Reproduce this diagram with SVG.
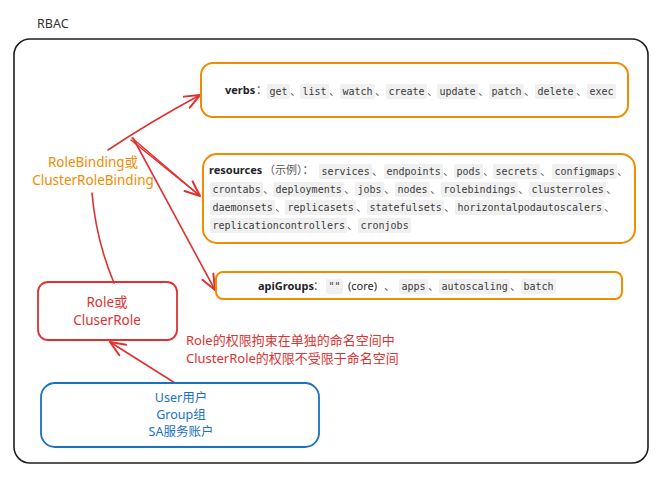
<svg xmlns="http://www.w3.org/2000/svg" width="670" height="482" viewBox="0 0 670 482">
<defs>
<style>
.hand{font-family:"Noto Sans","Noto Sans CJK SC",sans-serif;}
.lbl{font-family:"Noto Sans","Noto Sans CJK SC",sans-serif;font-size:11px;fill:#1f2329;}
.b{font-weight:bold;}
.sep{font-family:"Noto Sans CJK SC",sans-serif;font-size:11px;fill:#555;}
.code{font-family:"DejaVu Sans Mono",monospace;font-size:10px;fill:#3a3a3a;}
.cb{fill:#f0f0f0;}
.ob{fill:none;stroke:#f08c00;stroke-width:2;}
.conn{fill:none;stroke:#e03131;stroke-width:1.6;stroke-linecap:round;}
</style>
<marker id="ah" markerUnits="userSpaceOnUse" markerWidth="20" markerHeight="20" refX="0" refY="0" viewBox="-14 -8 16 16" orient="auto">
<path d="M -12 -5 L 0 0 L -12 5" fill="none" stroke="#e03131" stroke-width="1.6" stroke-linecap="round" stroke-linejoin="round"/>
</marker>
</defs>
<rect width="670" height="482" fill="#ffffff"/>

<g id="frame">
<text x="37" y="28" class="hand" font-size="12.5" fill="#333">RBAC</text>
<rect x="14" y="39" width="634" height="424" rx="16" fill="none" stroke="#1e1e1e" stroke-width="1.6"/>
</g>

<g id="connectors">
<path class="conn" d="M 108 150 Q 150 122 200 95" marker-end="url(#ah)"/>
<path class="conn" d="M 132 138 L 200 196" marker-end="url(#ah)"/>
<path class="conn" d="M 133 138 L 215 290" marker-end="url(#ah)"/>
<path class="conn" d="M 131 140 L 199 195"/>
<path class="conn" d="M 92 193 Q 96 240 114 283"/>
<path class="conn" d="M 175 383 L 110 342" marker-end="url(#ah)"/>
</g>

<g id="verbs">
<rect class="ob" x="201" y="63" width="427" height="54" rx="12"/>
<text class="lbl b" x="225" y="94">verbs</text>
<text class="sep" x="256" y="94">：</text>
<rect class="cb" x="267" y="84" width="23" height="15" rx="2"/><text class="code" x="269.5" y="95">get</text><text class="sep" x="290" y="95">、</text>
<rect class="cb" x="300" y="84" width="29" height="15" rx="2"/><text class="code" x="302.5" y="95">list</text><text class="sep" x="329" y="95">、</text>
<rect class="cb" x="340" y="84" width="35" height="15" rx="2"/><text class="code" x="342.5" y="95">watch</text><text class="sep" x="375" y="95">、</text>
<rect class="cb" x="386" y="84" width="41" height="15" rx="2"/><text class="code" x="388.5" y="95">create</text><text class="sep" x="427" y="95">、</text>
<rect class="cb" x="437" y="84" width="41" height="15" rx="2"/><text class="code" x="439.5" y="95">update</text><text class="sep" x="478" y="95">、</text>
<rect class="cb" x="489" y="84" width="35" height="15" rx="2"/><text class="code" x="491.5" y="95">patch</text><text class="sep" x="524" y="95">、</text>
<rect class="cb" x="535" y="84" width="41" height="15" rx="2"/><text class="code" x="537.5" y="95">delete</text><text class="sep" x="576" y="95">、</text>
<rect class="cb" x="587" y="84" width="29" height="15" rx="2"/><text class="code" x="589.5" y="95">exec</text>
</g>

<g id="resources">
<rect class="ob" x="203" y="154" width="432" height="89" rx="14"/>
<text class="lbl b" x="209" y="174">resources</text>
<text class="sep" x="264" y="174" fill="#444">（示例）：</text>
<rect class="cb" x="319" y="164" width="53" height="15" rx="2"/><text class="code" x="321.5" y="175">services</text><text class="sep" x="372" y="175">、</text>
<rect class="cb" x="384" y="164" width="59" height="15" rx="2"/><text class="code" x="386.5" y="175">endpoints</text><text class="sep" x="443" y="175">、</text>
<rect class="cb" x="454" y="164" width="29" height="15" rx="2"/><text class="code" x="456.5" y="175">pods</text><text class="sep" x="483" y="175">、</text>
<rect class="cb" x="493" y="164" width="47" height="15" rx="2"/><text class="code" x="495.5" y="175">secrets</text><text class="sep" x="540" y="175">、</text>
<rect class="cb" x="552" y="164" width="65" height="15" rx="2"/><text class="code" x="554.5" y="175">configmaps</text><text class="sep" x="617" y="175">、</text>

<rect class="cb" x="210" y="182" width="53" height="15" rx="2"/><text class="code" x="212.5" y="193">crontabs</text><text class="sep" x="263" y="193">、</text>
<rect class="cb" x="273" y="182" width="71" height="15" rx="2"/><text class="code" x="275.5" y="193">deployments</text><text class="sep" x="344" y="193">、</text>
<rect class="cb" x="355" y="182" width="29" height="15" rx="2"/><text class="code" x="357.5" y="193">jobs</text><text class="sep" x="384" y="193">、</text>
<rect class="cb" x="395" y="182" width="35" height="15" rx="2"/><text class="code" x="397.5" y="193">nodes</text><text class="sep" x="430" y="193">、</text>
<rect class="cb" x="441" y="182" width="77" height="15" rx="2"/><text class="code" x="443.5" y="193">rolebindings</text><text class="sep" x="518" y="193">、</text>
<rect class="cb" x="529" y="182" width="77" height="15" rx="2"/><text class="code" x="531.5" y="193">clusterroles</text><text class="sep" x="606" y="193">、</text>

<rect class="cb" x="210" y="200" width="65" height="15" rx="2"/><text class="code" x="212.5" y="211">daemonsets</text><text class="sep" x="275" y="211">、</text>
<rect class="cb" x="285" y="200" width="71" height="15" rx="2"/><text class="code" x="287.5" y="211">replicasets</text><text class="sep" x="356" y="211">、</text>
<rect class="cb" x="367" y="200" width="77" height="15" rx="2"/><text class="code" x="369.5" y="211">statefulsets</text><text class="sep" x="444" y="211">、</text>
<rect class="cb" x="455" y="200" width="149" height="15" rx="2"/><text class="code" x="457.5" y="211">horizontalpodautoscalers</text><text class="sep" x="604" y="211">、</text>

<rect class="cb" x="210" y="218" width="137" height="15" rx="2"/><text class="code" x="212.5" y="229">replicationcontrollers</text><text class="sep" x="347" y="229">、</text>
<rect class="cb" x="358" y="218" width="53" height="15" rx="2"/><text class="code" x="360.5" y="229">cronjobs</text>
</g>

<g id="apiGroups">
<rect class="ob" x="216" y="272" width="406" height="27" rx="7"/>
<text class="lbl b" x="258" y="290">apiGroups</text>
<text class="sep" x="313" y="290">：</text>
<rect class="cb" x="326" y="279" width="17" height="15" rx="2"/><text class="code" x="328.5" y="290">""</text>
<text class="lbl" x="348" y="290" fill="#555">(core)</text><text class="sep" x="384" y="290">、</text>
<rect class="cb" x="399" y="279" width="29" height="15" rx="2"/><text class="code" x="401.5" y="290">apps</text><text class="sep" x="428" y="290">、</text>
<rect class="cb" x="439" y="279" width="71" height="15" rx="2"/><text class="code" x="441.5" y="290">autoscaling</text><text class="sep" x="510" y="290">、</text>
<rect class="cb" x="521" y="279" width="35" height="15" rx="2"/><text class="code" x="523.5" y="290">batch</text>
</g>

<g id="binding">
<text class="hand" x="93" y="167" font-size="13.5" fill="#f08c00" text-anchor="middle">RoleBinding或</text>
<text class="hand" x="93" y="185" font-size="13.5" fill="#f08c00" text-anchor="middle">ClusterRoleBinding</text>
</g>

<g id="role">
<rect x="38" y="282" width="139" height="58" rx="10" fill="none" stroke="#e03131" stroke-width="1.8"/>
<text class="hand" x="107" y="307" font-size="13.5" fill="#e03131" text-anchor="middle">Role或</text>
<text class="hand" x="107" y="325" font-size="13.5" fill="#e03131" text-anchor="middle">CluserRole</text>
</g>

<g id="note">
<text class="hand" x="186" y="345" font-size="13" fill="#e03131">Role的权限拘束在单独的命名空间中</text>
<text class="hand" x="186" y="363" font-size="13" fill="#e03131">ClusterRole的权限不受限于命名空间</text>
</g>

<g id="subjects">
<rect x="41" y="383" width="278" height="64" rx="14" fill="none" stroke="#1971c2" stroke-width="1.8"/>
<text class="hand" x="181" y="402" font-size="12.5" fill="#1971c2" text-anchor="middle">User用户</text>
<text class="hand" x="181" y="419" font-size="12.5" fill="#1971c2" text-anchor="middle">Group组</text>
<text class="hand" x="181" y="436" font-size="12.5" fill="#1971c2" text-anchor="middle">SA服务账户</text>
</g>
</svg>
